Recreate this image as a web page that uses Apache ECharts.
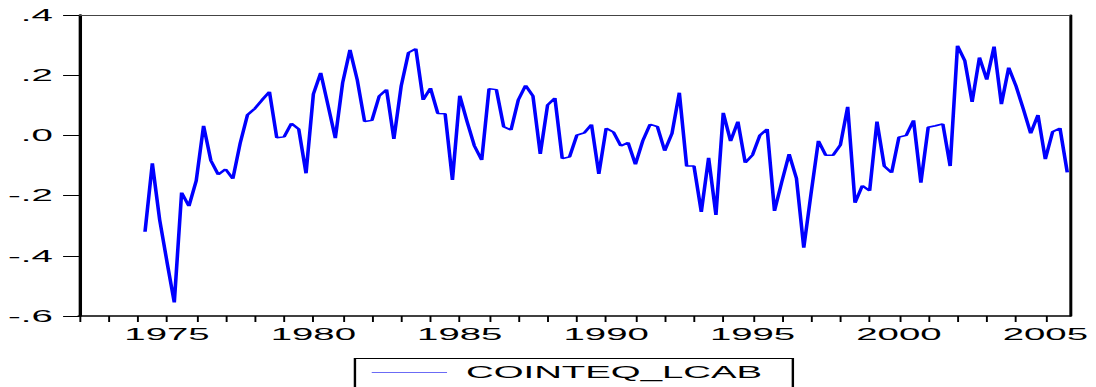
<!DOCTYPE html>
<html>
<head>
<meta charset="utf-8">
<script src="https://cdn.jsdelivr.net/npm/echarts@6/dist/echarts.min.js"></script>
<style>
  html, body { margin: 0; padding: 0; background: #fff; overflow: hidden; }
  /* The graph is laid out narrow and stretched sideways, like a wide export of a compact plot. */
  #chart { width: 457px; height: 387px; transform: scaleX(2.39825); transform-origin: 0 0; }
</style>
</head>
<body>
<div id="chart"></div>
<script>
// Cointegrating equation residual, quarterly, 1974Q2 - 2005Q4
const seriesName = 'COINTEQ_LCAB';
const startYear = 1974;
const startQuarter = 2;
const cointeqLcab = [
  -0.320, -0.093, -0.280,
  -0.420, -0.555, -0.190, -0.235,
  -0.150,  0.032, -0.084, -0.130,
  -0.112, -0.144, -0.026,  0.068,
   0.089,  0.118,  0.145, -0.008,
  -0.005,  0.040,  0.021, -0.126,
   0.137,  0.208,  0.100, -0.009,
   0.175,  0.284,  0.184,  0.046,
   0.050,  0.131,  0.152, -0.012,
   0.164,  0.275,  0.288,  0.118,
   0.157,  0.073,  0.072, -0.148,
   0.132,  0.046, -0.035, -0.082,
   0.155,  0.152,  0.029,  0.018,
   0.118,  0.166,  0.131, -0.062,
   0.101,  0.124, -0.077, -0.071,
   0.001,  0.008,  0.036, -0.128,
   0.024,  0.011, -0.035, -0.024,
  -0.096, -0.018,  0.037,  0.029,
  -0.051,  0.007,  0.142, -0.102,
  -0.102, -0.254, -0.074, -0.264,
   0.075, -0.019,  0.046, -0.091,
  -0.065,  0.000,  0.021, -0.251,
  -0.154, -0.062, -0.143, -0.373,
  -0.192, -0.018, -0.066, -0.066,
  -0.032,  0.095, -0.224, -0.167,
  -0.184,  0.046, -0.102, -0.124,
  -0.006,  0.000,  0.050, -0.157,
   0.027,  0.032,  0.038, -0.102,
   0.298,  0.248,  0.111,  0.259,
   0.185,  0.295,  0.104,  0.225,
   0.164,  0.087,  0.007,  0.068,
  -0.079,  0.012,  0.024, -0.123
];

// Axis ticks and labels
const xMin = 1972;
const xMax = 2005.83;
const yearTicks = [];
for (let y = 1972; y <= 2005; y++) yearTicks.push(y);
const yearLabels = [1975, 1980, 1985, 1990, 1995, 2000, 2005];
const yMin = -0.6, yMax = 0.4, yStep = 0.2;

const points = cointeqLcab.map((v, i) => [startYear + (startQuarter - 1) / 4 + i / 4, v]);

const font = "'Liberation Sans', Arial, sans-serif";
const chart = echarts.init(document.getElementById('chart'), null, { renderer: 'svg' });

// Plain axis line used for the top and right frame edges
function frameAxis(extra) {
  return Object.assign({
    type: 'value',
    splitLine: { show: false },
    axisTick: { show: false },
    axisLabel: { show: false }
  }, extra);
}

chart.setOption({
  animation: false,
  backgroundColor: '#fff',
  grid: { left: 33, right: 11, top: 15, bottom: 71, containLabel: false, outerBoundsMode: 'none' },
  xAxis: [
    {
      type: 'value',
      min: xMin,
      max: xMax,
      position: 'bottom',
      splitLine: { show: false },
      axisLine: { show: true, onZero: false, lineStyle: { color: '#000', width: 1.5 } },
      axisTick: { show: true, customValues: yearTicks, length: 6, lineStyle: { color: '#000', width: 0.8 } },
      axisLabel: {
        show: true,
        customValues: yearLabels,
        margin: 10,
        fontFamily: font,
        fontSize: 16,
        color: '#000',
        formatter: v => String(Math.round(v))
      }
    },
    frameAxis({
      min: xMin,
      max: xMax,
      position: 'top',
      axisLine: { show: true, onZero: false, lineStyle: { color: '#444', width: 1 } }
    })
  ],
  yAxis: [
    {
      type: 'value',
      min: yMin,
      max: yMax,
      interval: yStep,
      position: 'left',
      splitLine: { show: false },
      axisLine: { show: true, onZero: false, lineStyle: { color: '#000', width: 1.4 } },
      axisTick: { show: true, length: 6.7, lineStyle: { color: '#000', width: 1 } },
      axisLabel: {
        margin: 11,
        fontFamily: font,
        fontSize: 16,
        color: '#000',
        formatter: v => {
          const r = Math.round(v * 10) / 10;
          return r.toFixed(1).replace('0.', '.');
        }
      }
    },
    frameAxis({
      min: yMin,
      max: yMax,
      interval: yStep,
      position: 'right',
      axisLine: { show: true, onZero: false, lineStyle: { color: '#000', width: 1.25 } }
    })
  ],
  // Legend box along the bottom edge: frame, line sample and series name
  graphic: {
    elements: [
      {
        type: 'rect',
        silent: true,
        shape: { x: 148, y: 358.5, width: 182.6, height: 40 },
        style: { fill: 'none', stroke: '#000', lineWidth: 1 }
      },
      {
        type: 'line',
        silent: true,
        shape: { x1: 155, y1: 372.5, x2: 186.4, y2: 372.5 },
        style: { stroke: '#6b6bf5', lineWidth: 1 }
      },
      {
        type: 'text',
        silent: true,
        style: {
          text: seriesName,
          x: 194.3,
          y: 372.5,
          verticalAlign: 'middle',
          align: 'left',
          font: "16px 'Liberation Sans', Arial, sans-serif",
          fill: '#000'
        }
      }
    ]
  },
  series: [
    {
      name: seriesName,
      type: 'line',
      xAxisIndex: 0,
      yAxisIndex: 0,
      data: points,
      symbol: 'none',
      lineStyle: { color: '#0000ff', width: 1.5 },
      itemStyle: { color: '#0000ff' },
      z: 3
    }
  ]
});
</script>
</body>
</html>
